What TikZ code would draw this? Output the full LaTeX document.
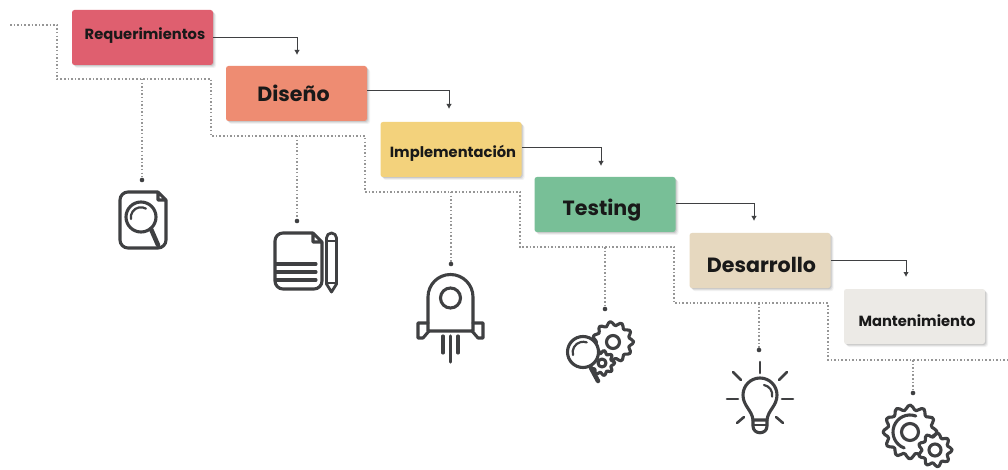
\documentclass[tikz,border=0pt]{standalone}
\usepackage{fontspec}
\setmainfont{Poppins}
\usetikzlibrary{arrows.meta,shadows}
\definecolor{ink}{HTML}{3F4042}
\definecolor{dotc}{HTML}{969696}
\definecolor{cReq}{HTML}{DF5F6F}
\definecolor{cDis}{HTML}{EE8C72}
\definecolor{cImp}{HTML}{F3D27C}
\definecolor{cTes}{HTML}{78BF97}
\definecolor{cDes}{HTML}{E6D8BF}
\definecolor{cMan}{HTML}{ECEAE6}
\tikzset{
  phasebox/.style={rounded corners=2.5pt,minimum width=141pt,minimum height=55pt,inner sep=0pt,
    general shadow={shadow xshift=3pt,shadow yshift=-3pt,fill=black,opacity=.05},
    general shadow={shadow xshift=2pt,shadow yshift=-2pt,fill=black,opacity=.07},
    general shadow={shadow xshift=1pt,shadow yshift=-1pt,fill=black,opacity=.10}},
  smalltxt/.style={font=\bfseries\fontsize{14.7}{16}\selectfont,text=black!90,inner sep=0pt},
  bigtxt/.style={font=\bfseries\fontsize{20.6}{24}\selectfont,text=black!90,inner sep=0pt},
  flow/.style={draw=ink,line width=1pt,-{Latex[length=5pt,width=5.5pt]}},
  trail/.style={draw=dotc,line width=1.2pt,dash pattern=on 1.5pt off 2.1pt},
  enddot/.style={circle,fill=ink,inner sep=0pt,minimum size=4.6pt},
  icon/.style={draw=ink,line width=3.1pt,line cap=round,line join=round},
}
% centre x, centre y, mean radius, tooth amplitude, teeth
\newcommand{\cog}[5]{%
  \draw[icon,fill=white] plot[smooth cycle,domain=0:358,samples=#5*6-1]
    ({#1+(#3+#4*cos(#5*\x))*cos(\x)},{#2+(#3+#4*cos(#5*\x))*sin(\x)});}
\begin{document}
\begin{tikzpicture}[x=1pt,y=-1pt]
\useasboundingbox (0,0) rectangle (1008,470);
\fill[white] (0,0) rectangle (1008,470);

% dotted trail
\coordinate (t0) at (10,25);
\coordinate (t1) at (57,25);
\coordinate (t2) at (57,79);
\coordinate (b1) at (142,79);
\coordinate (t3) at (211,79);
\coordinate (t4) at (211,136);
\coordinate (b2) at (297,136);
\coordinate (t5) at (365,136);
\coordinate (t6) at (365,192);
\coordinate (b3) at (451,192);
\coordinate (t7) at (520,192);
\coordinate (t8) at (520,247);
\coordinate (b4) at (605,247);
\coordinate (t9) at (674,247);
\coordinate (t10) at (674,303);
\coordinate (b5) at (759,303);
\coordinate (t11) at (828,303);
\coordinate (t12) at (828,360);
\coordinate (b6) at (913,360);
\coordinate (t13) at (1008,360);
\draw[trail] (t0)--(t1)--(t2)--(t3)--(t4)--(t5)--(t6)--(t7)--(t8)--(t9)--(t10)--(t11)--(t12)--(t13);

% phase boxes
\node[phasebox,fill=cReq] (req) at (142.5,37.5) {};
\node[phasebox,fill=cDis] (dis) at (296.5,93.5) {};
\node[phasebox,fill=cImp] (imp) at (451,149.5) {};
\node[phasebox,fill=cTes] (tes) at (605,204.5) {};
\node[phasebox,fill=cDes] (des) at (760,260.5) {};
\node[phasebox,fill=cMan] (man) at (914.5,316.5) {};
\node[smalltxt] (lreq) at (145,35.5) {Requerimientos};
\node[bigtxt]   (ldis) at (293.5,93) {Diseño};
\node[smalltxt] (limp) at (453,153.5) {Implementación};
\node[bigtxt]   (ltes) at (602,210) {Testing};
\node[bigtxt]   (ldes) at (761.5,264.5) {Desarrollo};
\node[smalltxt] (lman) at (917,321) {Mantenimiento};

% flow arrows
\coordinate (a1s) at (213,38);  \coordinate (a1e) at (297,55);
\coordinate (a2s) at (367,91);  \coordinate (a2e) at (449,109);
\coordinate (a3s) at (522,148); \coordinate (a3e) at (601,166);
\coordinate (a4s) at (676,204); \coordinate (a4e) at (754,221);
\coordinate (a5s) at (831,260); \coordinate (a5e) at (906,277);
\draw[flow] (a1s) -| (a1e);
\draw[flow] (a2s) -| (a2e);
\draw[flow] (a3s) -| (a3e);
\draw[flow] (a4s) -| (a4e);
\draw[flow] (a5s) -| (a5e);

% branches to icons
\node[enddot] (d1) at (142,180) {};
\node[enddot] (d2) at (297,221) {};
\node[enddot] (d3) at (451,264) {};
\node[enddot] (d4) at (605,309) {};
\node[enddot] (d5) at (759,350) {};
\node[enddot] (d6) at (913,393) {};
\draw[trail] (b1)--(d1);
\draw[trail] (b2)--(d2);
\draw[trail] (b3)--(d3);
\draw[trail] (b4)--(d4);
\draw[trail] (b5)--(d5);
\draw[trail] (b6)--(d6);

% icon 1: document with magnifier
\draw[icon] (158,192) -- (128,192) arc[start angle=-90,end angle=-180,radius=8] -- (120,240)
  arc[start angle=-180,end angle=-270,radius=8] -- (158,248) arc[start angle=-270,end angle=-360,radius=8]
  -- (166,200) -- (158,192) -- (158,200) -- (166,200);
\draw[icon,fill=white] (141,217) circle[radius=15];
\draw[icon,line width=2.2pt] (131,219) arc[start angle=-190,end angle=-60,radius=10];
\draw[icon,line width=4.5pt] (151,229) -- (158,245);

% icon 2: notes and pencil
\draw[icon] (313,233) -- (283,233) arc[start angle=-90,end angle=-180,radius=8] -- (275,281)
  arc[start angle=-180,end angle=-270,radius=8] -- (314,289) arc[start angle=-270,end angle=-360,radius=8]
  -- (322,242) -- (313,233) -- (313,242) -- (322,242);
\draw[icon] (276,264) -- (316,264);
\draw[icon] (276,272) -- (316,272);
\draw[icon] (276,280) -- (316,280);
\draw[icon,line width=2.8pt] (326.5,238) arc[start angle=-180,end angle=0,radius=5] -- (336.5,284) -- (331.5,292) -- (326.5,284) -- cycle;
\draw[icon,line width=2.2pt] (326.5,241) -- (336.5,241);
\draw[icon,line width=2.2pt] (326.5,283) -- (336.5,283);

% icon 3: rocket
\draw[icon] (428,331) -- (428,297) arc[start angle=-180,end angle=0,radius=22.5] -- (473,331) -- cycle;
\draw[icon] (450.5,298) circle[radius=10];
\draw[icon] (428,323) -- (418,323) -- (418,338) -- (423,338) -- (429,331);
\draw[icon] (473,323) -- (483,323) -- (483,338) -- (478,338) -- (472,331);
\draw[icon] (443,336) -- (443,353);
\draw[icon] (450.5,336) -- (450.5,362);
\draw[icon] (458,336) -- (458,353);

% icon 4: magnifier and gears
\cog{613}{342}{18.5}{2}{11}
\draw[icon] (613,342) circle[radius=6.5];
\cog{602}{363}{11}{1.6}{9}
\draw[icon] (602,363) circle[radius=4];
\draw[icon,line width=4.5pt] (591,368) -- (598,381);
\draw[icon,fill=white] (583,352) circle[radius=15.5];
\draw[icon,line width=2.2pt] (573,355) arc[start angle=-195,end angle=-70,radius=10.5];

% icon 5: light bulb
\draw[icon] (753,420) .. controls (752,410) and (743,406) .. (743,395)
  arc[start angle=-180,end angle=0,radius=17]
  .. controls (777,406) and (768,410) .. (767,420) -- cycle;
\draw[icon,line width=2.2pt] (753,425) -- (767,425);
\draw[icon] (753,420) -- (753,426) .. controls (753,435) and (767,435) .. (767,426) -- (767,420);
\draw[icon,line width=2.2pt] (764,385) arc[start angle=-80,end angle=10,radius=10];
\draw[icon,line width=2.6pt] (760,362) -- (760,373);
\draw[icon,line width=2.6pt] (733,372) -- (741,380);
\draw[icon,line width=2.6pt] (787,372) -- (779,380);
\draw[icon,line width=2.6pt] (727,399) -- (738,399);
\draw[icon,line width=2.6pt] (782,399) -- (793,399);
\draw[icon,line width=2.6pt] (737,423) -- (744,417);
\draw[icon,line width=2.6pt] (783,423) -- (776,417);

% icon 6: gears
\cog{910}{432}{24.5}{2.4}{12}
\draw[icon] (910,432) circle[radius=8.5];
\draw[icon] (915.8,416) arc[start angle=-70,end angle=-250,radius=17];
\cog{935}{450}{15}{2}{9}
\draw[icon] (935,450) circle[radius=6];
\end{tikzpicture}
\end{document}
